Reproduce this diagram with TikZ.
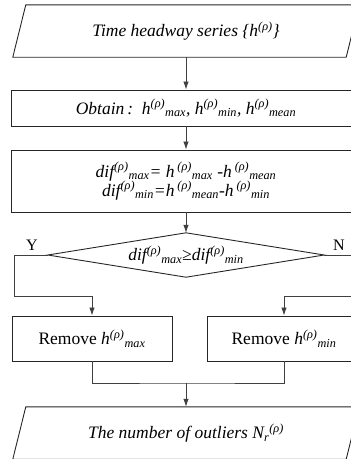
\documentclass[tikz,border=0pt]{standalone}
\usepackage{fontspec}
\setmainfont{Liberation Serif}
\usetikzlibrary{arrows.meta,shapes.geometric,calc}
\newcommand\hsup{\textsuperscript{(ρ)}}
\tikzset{
  txt/.style={font=\fontsize{17.5}{20}\selectfont, align=center, inner sep=0pt},
  boxs/.style={txt, draw=black!85, line width=0.9pt, minimum width=350pt},
  iobox/.style={txt, minimum width=346pt, minimum height=52pt},
  iodraw/.style={draw=black!85, line width=0.9pt},
  decs/.style={txt, minimum width=276pt, minimum height=44pt},
  remb/.style={txt, draw=black!85, line width=0.9pt, minimum height=45pt},
  lnk/.style={draw=black!75, line width=0.8pt},
  arr/.style={lnk, -{Latex[length=8pt,width=5.5pt]}},
  lab/.style={font=\fontsize{16}{18}\selectfont, inner sep=0pt}
}
\begin{document}
\begin{tikzpicture}[x=1pt,y=-1pt]
\useasboundingbox (0,0) rectangle (351,459);
\clip (0,0) rectangle (351,459);
\node[iobox] (in) at (186,31) {\textit{Time headway series \{h\hsup\}}};
\draw[iodraw] (in.south west) -- ($(in.north west)+(13,0)$) -- (in.north east) -- ($(in.south east)+(-13,0)$) -- cycle;
\node[boxs, minimum height=36pt] (ob) at (186,108) {\textit{Obtain\,:\ \ h\hsup\textsubscript{max}, h\hsup\textsubscript{min}, h\hsup\textsubscript{mean}}};
\node[boxs, minimum height=62pt] (df) at (186,181) {\textit{dif\hsup\textsubscript{max}= h\,\hsup\textsubscript{max} -h\,\hsup\textsubscript{mean}}\\[-1pt]\textit{dif\hsup\textsubscript{min}=h\,\hsup\textsubscript{mean}-h\,\hsup\textsubscript{min}}};
\node[decs] (dc) at (186,255) {\textit{dif\hsup\textsubscript{max}≥dif\hsup\textsubscript{min}}};
\draw[iodraw] (dc.north) -- (dc.east) -- (dc.south) -- (dc.west) -- cycle;
\node[remb, minimum width=160pt] (rl) at (92,338.5) {Remove \textit{h\hsup\textsubscript{max}}};
\node[remb, minimum width=154pt] (rr) at (284,338.5) {Remove \textit{h\hsup\textsubscript{min}}};
\node[iobox] (out) at (186,433) {\textit{The number of outliers N\textsubscript{r}\hsup}};
\draw[iodraw] (out.south west) -- ($(out.north west)+(13,0)$) -- (out.north east) -- ($(out.south east)+(-13,0)$) -- cycle;
\coordinate (yc) at (14,296);
\coordinate (nc) at (362,296);
\coordinate (m) at (186,383);
\node[lab] (ylab) at (32,245) {Y};
\node[lab] (nlab) at (339,245) {N};
\draw[arr] (in.south) -- (ob.north);
\draw[arr] (ob.south) -- (df.north);
\draw[arr] (df.south) -- (dc.north);
\draw[arr] (dc.west) -| (yc) -| (rl.north);
\draw[arr] (dc.east) -| (nc) -| (rr.north);
\draw[lnk] (rl.south) |- (m) -| (rr.south);
\draw[arr] (m) -- (out.north);
\end{tikzpicture}
\end{document}
